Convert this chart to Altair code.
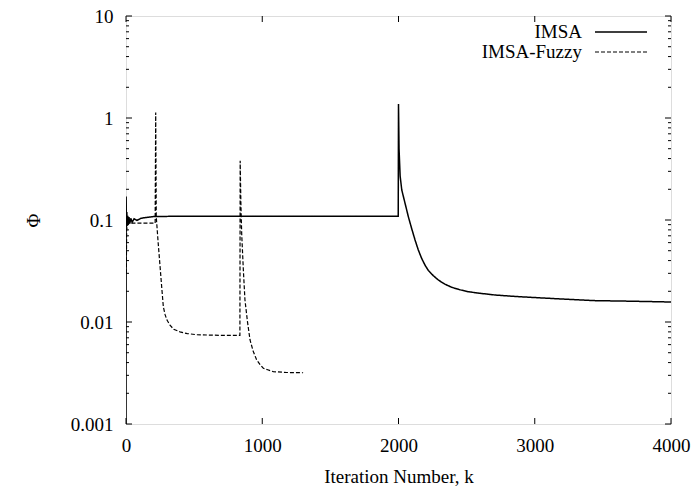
import altair as alt
import pandas as pd

# ---- data ----
series_names = ["IMSA", "IMSA-Fuzzy"]

imsa_k = [0, 1, 3, 6, 9, 13, 17, 22, 28, 35, 45, 60, 80, 110, 150, 200, 400, 1000, 1998,
          2000, 2004, 2012, 2024, 2048, 2072, 2096, 2121, 2145, 2170, 2195, 2219, 2255,
          2292, 2340, 2390, 2450, 2512, 2600, 2708, 2830, 2953, 3198, 3442, 3700, 4000]
imsa_phi = [0.001, 0.17, 0.085, 0.12, 0.088, 0.11, 0.09, 0.107, 0.092, 0.104, 0.095, 0.103,
            0.099, 0.104, 0.106, 0.108, 0.109, 0.109, 0.109,
            1.37, 0.5, 0.27, 0.197, 0.146, 0.108, 0.083, 0.064, 0.051, 0.042, 0.036, 0.032,
            0.0285, 0.0258, 0.0235, 0.0219, 0.0207, 0.0198, 0.0191, 0.0184, 0.0179, 0.0175,
            0.0168, 0.0162, 0.0160, 0.0157]

fuzzy_k = [2, 5, 12, 60, 214, 218, 222, 236, 250, 262, 274, 287, 300, 323, 350, 396, 450,
           519, 700, 836,
           838, 843, 849, 861, 873, 891, 910, 933, 959, 985, 1008, 1040, 1081, 1180, 1300]
fuzzy_phi = [0.03, 0.08, 0.093, 0.093, 0.093, 1.13, 0.108, 0.06, 0.035, 0.022, 0.0141,
             0.0118, 0.0105, 0.0093, 0.0085, 0.008, 0.0077, 0.0075, 0.0074, 0.0074,
             0.38, 0.15, 0.074, 0.033, 0.0165, 0.0102, 0.0067, 0.0052, 0.00424, 0.0038,
             0.00352, 0.0034, 0.00326, 0.0032, 0.00318]

x_ticks = [0, 1000, 2000, 3000, 4000]
y_major = [0.001, 0.01, 0.1, 1, 10]
y_minor = [m * d for d in [0.001, 0.01, 0.1, 1] for m in range(2, 10)]

# ---- build tables ----
df = pd.concat([
    pd.DataFrame({"k": imsa_k, "phi": imsa_phi, "series": series_names[0], "order": range(len(imsa_k))}),
    pd.DataFrame({"k": fuzzy_k, "phi": fuzzy_phi, "series": series_names[1], "order": range(len(fuzzy_k))}),
], ignore_index=True)

W, H = 545, 408
FONT = "Liberation Serif"
FS = 19
MAJ, MIN = 6, 3

xscale = alt.Scale(domain=[0, 4000], nice=False, zero=False)
yscale = alt.Scale(type="log", domain=[0.001, 10], nice=False)

x_axis = alt.Axis(
    values=x_ticks, format="d", title="Iteration Number, k", ticks=False, domain=False, grid=False,
    labelFont=FONT, labelFontSize=FS, labelColor="black", labelPadding=12,
    labelFlush=False, labelOverlap=False,
    titleFont=FONT, titleFontSize=FS, titleFontWeight="normal", titleColor="black",
    titleX=W / 2, titleY=52, titleBaseline="middle", titleAlign="center")
y_axis = alt.Axis(
    values=y_major, format="~g", title="Φ", ticks=False, domain=False, grid=False,
    labelFont=FONT, labelFontSize=FS, labelColor="black", labelPadding=13,
    labelFlush=False, labelOverlap=False,
    titleFont=FONT, titleFontSize=FS, titleFontWeight="normal", titleColor="black",
    titleX=-93, titleY=H / 2, titleAngle=270, titleBaseline="middle", titleAlign="center")

def xe():
    return alt.X("k:Q", scale=xscale, axis=x_axis, title="Iteration Number, k")

def ye():
    return alt.Y("phi:Q", scale=yscale, axis=y_axis, title="Φ")

dash_scale = alt.Scale(domain=series_names, range=[[1, 0], [4, 2]])
width_scale = alt.Scale(domain=series_names, range=[1.5, 1.2])

lines = alt.Chart(df).mark_line(clip=True, color="black").encode(
    x=xe(), y=ye(),
    strokeDash=alt.StrokeDash("series:N", scale=dash_scale, legend=None),
    strokeWidth=alt.StrokeWidth("series:N", scale=width_scale, legend=None),
    order="order:Q",
)

# ---- inward gnuplot-style ticks ----
ymaj_df = pd.DataFrame({"phi": y_major})
ymin_df = pd.DataFrame({"phi": y_minor})
xt_df = pd.DataFrame({"k": x_ticks})

tick_layers = []
for d, size in [(ymaj_df, MAJ), (ymin_df, MIN)]:
    tick_layers.append(alt.Chart(d).mark_rule(color="black", strokeWidth=1).encode(
        y=ye(), x=alt.value(0), x2=alt.value(size)))
    tick_layers.append(alt.Chart(d).mark_rule(color="black", strokeWidth=1).encode(
        y=ye(), x=alt.value(W), x2=alt.value(W - size)))
tick_layers.append(alt.Chart(xt_df).mark_rule(color="black", strokeWidth=1).encode(
    x=xe(), y=alt.value(H), y2=alt.value(H - MAJ)))
tick_layers.append(alt.Chart(xt_df).mark_rule(color="black", strokeWidth=1).encode(
    x=xe(), y=alt.value(0), y2=alt.value(MAJ)))

# ---- gnuplot-style key (label left, sample right) ----
key_layers = []
for i, name in enumerate(series_names):
    one = pd.DataFrame({"series": [name]})
    ky = 16 + 20 * i
    key_layers.append(alt.Chart(one).mark_text(
        align="right", baseline="middle", font=FONT, fontSize=FS, color="black").encode(
        x=alt.value(456), y=alt.value(ky), text="series:N"))
    key_layers.append(alt.Chart(one).mark_rule(color="black").encode(
        x=alt.value(469), x2=alt.value(521), y=alt.value(ky),
        strokeDash=alt.StrokeDash("series:N", scale=dash_scale, legend=None),
        strokeWidth=alt.StrokeWidth("series:N", scale=width_scale, legend=None)))

chart = alt.layer(lines, *tick_layers, *key_layers).properties(
    width=W, height=H,
    autosize=alt.AutoSizeParams(type="none"),
    padding={"left": 126, "top": 16, "right": 24, "bottom": 67},
).configure_view(stroke="black", strokeWidth=1.2).configure(background="white")

chart.save("out.html", embed_options={"renderer": "svg", "actions": False})
